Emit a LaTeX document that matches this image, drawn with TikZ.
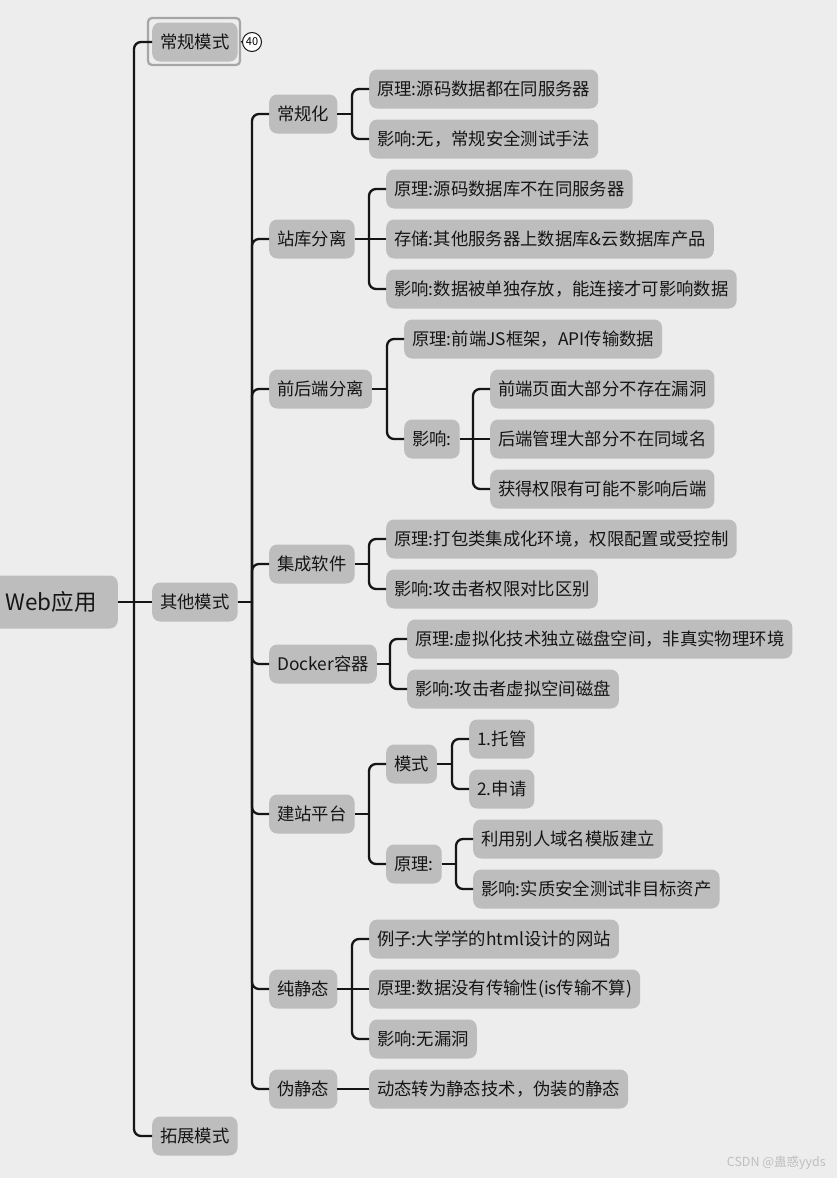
\documentclass[tikz,border=0pt]{standalone}
\usepackage{fontspec}
\setmainfont{Noto Sans CJK SC}
\definecolor{bg}{HTML}{EDEDED}
\definecolor{boxgray}{HTML}{BDBDBD}
\definecolor{framegray}{HTML}{A6A6A6}
\definecolor{ink}{HTML}{151515}
\newcommand\link[3]{\draw[edge] (#1.east) -- (#3,0 |- #1.east); \draw[edge,rounded corners=7pt] (#3,0 |- #1.east) |- (#2.west);}
\newcommand\linkm[2]{\draw[edge] (#1.east) -- (#2.west);}
\begin{document}
\begin{tikzpicture}[x=1pt,y=-1pt,
  box/.style={fill=boxgray, rounded corners=8pt, minimum height=39pt, inner xsep=8pt, inner ysep=0pt, anchor=west, text=ink, font=\fontsize{17.35pt}{20pt}\selectfont},
  edge/.style={draw=ink, line width=2.3pt}]
\fill[bg] (0,0) rectangle (837,1178);
\useasboundingbox (0,0) rectangle (837,1178);
% root
\node[box, anchor=east, minimum height=53pt, inner xsep=21pt, font=\fontsize{22.5pt}{25pt}\selectfont] (root) at (118,602) {Web应用};
% level 1
\node[draw=framegray, line width=2.2pt, rounded corners=4pt, minimum width=92pt, minimum height=47pt, inner sep=0pt] (m1f) at (194,41.5) {};
\node[box] (m1) at (152,42) {常规模式};
\node[box] (m2) at (152,602) {其他模式};
\node[box] (m3) at (152,1136) {拓展模式};
\node[circle, draw=ink, fill=white, line width=1pt, minimum size=19pt, inner sep=0pt, font=\fontsize{11pt}{12pt}\selectfont] (n40) at (252,42) {40};
\draw[edge, line width=1.5pt] (m1f.east) -- (n40.west);
% level 2
\node[box] (a) at (269,114) {常规化};
\node[box] (b) at (269,239) {站库分离};
\node[box] (c) at (269,389) {前后端分离};
\node[box] (d) at (269,564) {集成软件};
\node[box] (e) at (269,664) {Docker容器};
\node[box] (f) at (269,814) {建站平台};
\node[box] (g) at (269,989) {纯静态};
\node[box] (h) at (269,1089) {伪静态};
% level 3
\node[box] (a1) at (369,89) {原理:源码数据都在同服务器};
\node[box] (a2) at (369,139) {影响:无，常规安全测试手法};
\node[box] (b1) at (386,189) {原理:源码数据库不在同服务器};
\node[box] (b2) at (386,239) {存储:其他服务器上数据库\&云数据库产品};
\node[box] (b3) at (386,289) {影响:数据被单独存放，能连接才可影响数据};
\node[box] (c1) at (404,339) {原理:前端JS框架，API传输数据};
\node[box] (c2) at (404,439) {影响:};
\node[box] (c21) at (490,389) {前端页面大部分不存在漏洞};
\node[box] (c22) at (490,439) {后端管理大部分不在同域名};
\node[box] (c23) at (490,489) {获得权限有可能不影响后端};
\node[box] (d1) at (386,539) {原理:打包类集成化环境，权限配置或受控制};
\node[box] (d2) at (386,589) {影响:攻击者权限对比区别};
\node[box] (e1) at (407,639) {原理:虚拟化技术独立磁盘空间，非真实物理环境};
\node[box] (e2) at (407,689) {影响:攻击者虚拟空间磁盘};
\node[box] (f1) at (386,764) {模式};
\node[box] (f11) at (469,739) {1.托管};
\node[box] (f12) at (469,789) {2.申请};
\node[box] (f2) at (386,864) {原理:};
\node[box] (f21) at (473,839) {利用别人域名模版建立};
\node[box] (f22) at (473,889) {影响:实质安全测试非目标资产};
\node[box] (g1) at (369,939) {例子:大学学的html设计的网站};
\node[box] (g2) at (369,989) {原理:数据没有传输性(is传输不算)};
\node[box] (g3) at (369,1039) {影响:无漏洞};
\node[box] (h1) at (369,1089) {动态转为静态技术，伪装的静态};
% connectors
\link{root}{m1}{134}\linkm{root}{m2}\link{root}{m3}{134}
\link{m2}{a}{252}\link{m2}{b}{252}\link{m2}{c}{252}\link{m2}{d}{252}
\link{m2}{e}{252}\link{m2}{f}{252}\link{m2}{g}{252}\link{m2}{h}{252}
\link{a}{a1}{352}\link{a}{a2}{352}
\link{b}{b1}{369}\linkm{b}{b2}\link{b}{b3}{369}
\link{c}{c1}{387}\link{c}{c2}{387}
\link{c2}{c21}{473}\linkm{c2}{c22}\link{c2}{c23}{473}
\link{d}{d1}{369}\link{d}{d2}{369}
\link{e}{e1}{390}\link{e}{e2}{390}
\link{f}{f1}{369}\link{f}{f2}{369}
\link{f1}{f11}{452}\link{f1}{f12}{452}
\link{f2}{f21}{456}\link{f2}{f22}{456}
\link{g}{g1}{352}\linkm{g}{g2}\link{g}{g3}{352}
\linkm{h}{h1}
% watermark
\node[anchor=east, text=black!25, font=\fontsize{12.5pt}{14pt}\selectfont, inner sep=0pt] (wm) at (826,1163) {CSDN @蛊惑yyds};
\end{tikzpicture}
\end{document}
